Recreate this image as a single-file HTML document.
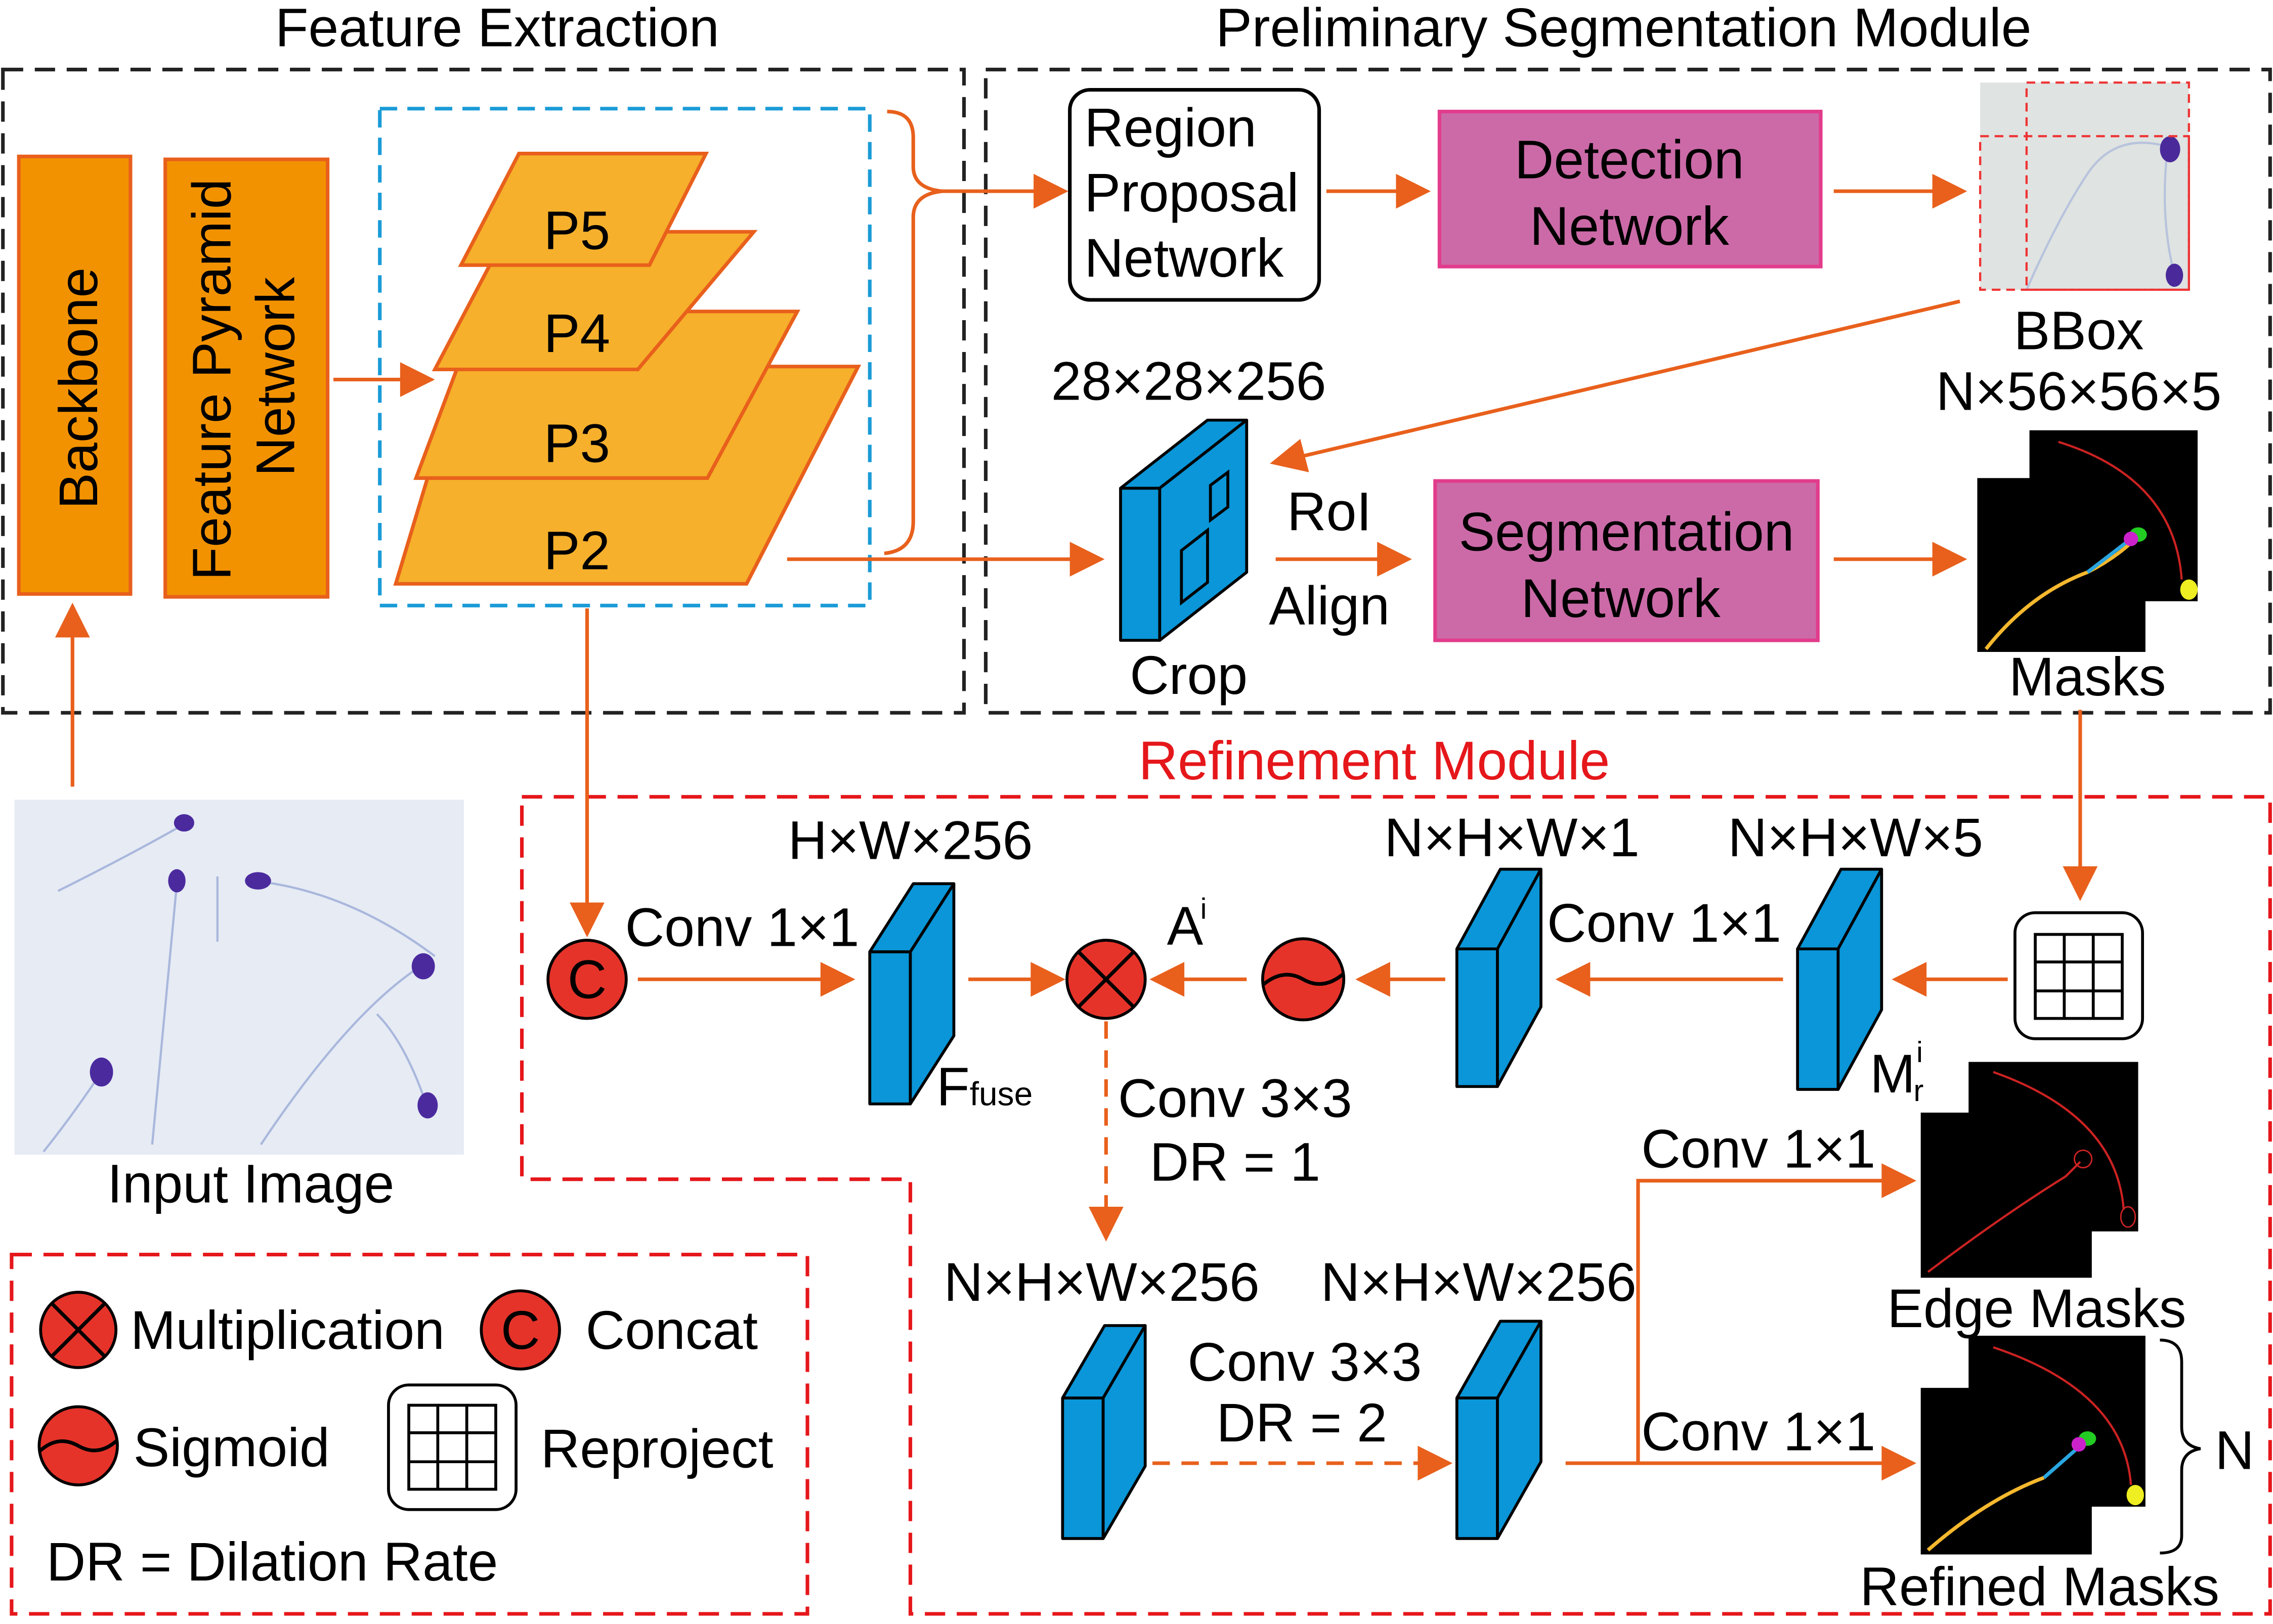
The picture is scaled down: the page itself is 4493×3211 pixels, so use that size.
<!DOCTYPE html>
<html><head><meta charset="utf-8">
<style>
html,body{margin:0;padding:0;background:#fff;}
svg{display:block;}
text{font-family:"Liberation Sans",Arial,sans-serif;fill:#000;}
</style></head>
<body>
<svg width="4493" height="3211" viewBox="0 0 1568 1121" preserveAspectRatio="none" xmlns="http://www.w3.org/2000/svg">
<style>
.o{stroke:#e8601c;stroke-width:2.5;fill:none}
.ah{fill:#e8601c}
.bl{fill:#0a96d8;stroke:#000;stroke-width:2;stroke-linejoin:round}
.t{font-size:37.5px}
</style>

<text x="343" y="32" class="t" text-anchor="middle">Feature Extraction</text>
<text x="1120" y="32" class="t" text-anchor="middle">Preliminary Segmentation Module</text>

<rect x="2" y="48" width="663" height="444" fill="none" stroke="#222" stroke-width="2.5" stroke-dasharray="14,8"/>
<rect x="680" y="48" width="886" height="444" fill="none" stroke="#222" stroke-width="2.5" stroke-dasharray="14,8"/>

<rect x="13" y="108" width="77" height="302" fill="#f39200" stroke="#e8601c" stroke-width="2.5"/>
<text transform="translate(67,268) rotate(-90)" class="t" text-anchor="middle">Backbone</text>
<rect x="114" y="110" width="112" height="302" fill="#f39200" stroke="#e8601c" stroke-width="2.5"/>
<text transform="translate(159,262) rotate(-90)" class="t" text-anchor="middle">Feature Pyramid</text>
<text transform="translate(203,260) rotate(-90)" class="t" text-anchor="middle">Network</text>
<line x1="230" y1="262" x2="280" y2="262" class="o"/><polygon class="ah" points="300,262 276,250 276,274"/>

<rect x="262" y="75" width="338" height="343" fill="none" stroke="#1a9bd7" stroke-width="2.5" stroke-dasharray="12,7"/>
<polygon points="273,403 515,403 592,253 318,253" fill="#f6b02b" stroke="#e8601c" stroke-width="2.5"/>
<polygon points="287,330 488,330 550,215 330,215" fill="#f6b02b" stroke="#e8601c" stroke-width="2.5"/>
<polygon points="300,255 440,255 520,160 350,160" fill="#f6b02b" stroke="#e8601c" stroke-width="2.5"/>
<polygon points="318,183 448,183 487,106 358,106" fill="#f6b02b" stroke="#e8601c" stroke-width="2.5"/>
<text x="398" y="172" class="t" text-anchor="middle">P5</text>
<text x="398" y="243" class="t" text-anchor="middle">P4</text>
<text x="398" y="319" class="t" text-anchor="middle">P3</text>
<text x="398" y="393" class="t" text-anchor="middle">P2</text>
<path d="M612,77 Q630,77 630,95 L630,115 Q630,130 650,132 Q630,134 630,150 L630,360 Q630,380 610,382" class="o"/>
<line x1="650" y1="132" x2="715" y2="132" class="o"/><polygon class="ah" points="737,132 713,120 713,144"/>

<rect x="738" y="62" width="172" height="145" rx="14" fill="#fff" stroke="#000" stroke-width="2.5"/>
<text x="748" y="101" class="t">Region</text>
<text x="748" y="146" class="t">Proposal</text>
<text x="748" y="191" class="t">Network</text>
<line x1="915" y1="132" x2="965" y2="132" class="o"/><polygon class="ah" points="987,132 963,120 963,144"/>
<rect x="993" y="77" width="263" height="107" fill="#cc6aa8" stroke="#e23c8c" stroke-width="2.5"/>
<text x="1124" y="123" class="t" text-anchor="middle">Detection</text>
<text x="1124" y="169" class="t" text-anchor="middle">Network</text>
<line x1="1265" y1="132" x2="1335" y2="132" class="o"/><polygon class="ah" points="1357,132 1333,120 1333,144"/>
<rect x="1366" y="57" width="144" height="143" fill="#dfe3e1"/>
<path d="M1398,200 Q1420,150 1440,120 T1498,102" stroke="#b7c3dd" fill="none" stroke-width="1.5"/>
<path d="M1500,190 Q1490,150 1495,105" stroke="#b7c3dd" fill="none" stroke-width="1.5"/>
<ellipse cx="1497" cy="103" rx="7" ry="9" fill="#4a2a9a"/>
<ellipse cx="1500" cy="190" rx="6" ry="8" fill="#4a2a9a"/>
<rect x="1398" y="57" width="112" height="143" fill="none" stroke="#e33" stroke-width="1.5" stroke-dasharray="6,4"/>
<rect x="1366" y="94" width="144" height="106" fill="none" stroke="#e33" stroke-width="1.5" stroke-dasharray="6,4"/>
<text x="1434" y="241" class="t" text-anchor="middle">BBox</text>
<text x="1434" y="283" class="t" text-anchor="middle">N×56×56×5</text>
<line x1="1352" y1="208" x2="898" y2="315" class="o"/><polygon class="ah" points="876,320 897,303 903,326"/>

<text x="820" y="276" class="t" text-anchor="middle">28×28×256</text>
<polygon class="bl" points="773,337 800,337 800,442 773,442"/>
<polygon class="bl" points="773,337 833,290 860,290 800,337"/>
<polygon class="bl" points="800,337 860,290 860,395 800,442"/>
<polygon points="815,380 833,366 833,402 815,416" fill="none" stroke="#000" stroke-width="2"/>
<polygon points="835,335 847,326 847,350 835,359" fill="none" stroke="#000" stroke-width="2"/>
<text x="820" y="479" class="t" text-anchor="middle">Crop</text>
<line x1="543" y1="386" x2="740" y2="386" class="o"/><polygon class="ah" points="762,386 738,374 738,398"/>
<text x="917" y="366" class="t" text-anchor="middle">RoI</text>
<text x="917" y="431" class="t" text-anchor="middle">Align</text>
<line x1="880" y1="386" x2="952" y2="386" class="o"/><polygon class="ah" points="974,386 950,374 950,398"/>
<rect x="990" y="332" width="264" height="110" fill="#cc6aa8" stroke="#e23c8c" stroke-width="2.5"/>
<text x="1122" y="380" class="t" text-anchor="middle">Segmentation</text>
<text x="1118" y="426" class="t" text-anchor="middle">Network</text>
<line x1="1265" y1="386" x2="1335" y2="386" class="o"/><polygon class="ah" points="1357,386 1333,374 1333,398"/>
<polygon points="1364,330 1400,330 1400,297 1516,297 1516,415 1480,415 1480,450 1364,450" fill="#000"/>
<path d="M1370,448 Q1400,410 1440,395 Q1460,385 1475,370" stroke="#f5b82e" stroke-width="2.5" fill="none"/>
<path d="M1440,395 L1470,372" stroke="#2aa6e0" stroke-width="2.5"/>
<ellipse cx="1475" cy="369" rx="6" ry="5" fill="#2c2"/><ellipse cx="1470" cy="372" rx="5" ry="5" fill="#c2c"/>
<path d="M1420,305 Q1500,330 1505,400" stroke="#c22" stroke-width="1.5" fill="none"/>
<ellipse cx="1510" cy="407" rx="6" ry="7" fill="#ee2"/>
<text x="1440" y="480" class="t" text-anchor="middle">Masks</text>

<rect x="10" y="552" width="310" height="245" fill="#e6ebf4"/>
<g stroke="#a9b7dc" stroke-width="1.5" fill="none">
<path d="M125,570 Q90,590 40,615"/><path d="M122,610 Q115,680 105,790"/><path d="M175,608 Q240,615 300,660"/>
<path d="M290,667 Q240,700 180,790"/><path d="M70,740 Q50,770 30,795"/><path d="M295,765 Q280,720 260,700"/><path d="M150,605 L150,650"/>
</g>
<g fill="#4b2a9e">
<ellipse cx="127" cy="568" rx="7" ry="6"/><ellipse cx="122" cy="608" rx="6" ry="8"/><ellipse cx="178" cy="608" rx="9" ry="6"/>
<ellipse cx="292" cy="667" rx="8" ry="9"/><ellipse cx="70" cy="740" rx="8" ry="10"/><ellipse cx="295" cy="763" rx="7" ry="9"/>
</g>
<text x="173" y="830" class="t" text-anchor="middle">Input Image</text>
<line x1="50" y1="543" x2="50" y2="438" class="o"/><polygon class="ah" points="50,416 38,440 62,440"/>

<text x="948" y="538" class="t" text-anchor="middle" style="fill:#e5171b">Refinement Module</text>
<polygon points="360,550 1566,550 1566,1114 628,1114 628,814 360,814" fill="none" stroke="#e5171b" stroke-width="2.5" stroke-dasharray="14,8"/>
<rect x="8" y="866" width="549" height="248" fill="none" stroke="#e5171b" stroke-width="2.5" stroke-dasharray="14,8"/>

<line x1="405" y1="420" x2="405" y2="625" class="o"/><polygon class="ah" points="405,647 393,623 417,623"/>
<circle cx="405" cy="676" r="27" fill="#e5332a" stroke="#000" stroke-width="2"/>
<text x="405" y="689" class="t" text-anchor="middle">C</text>
<text x="512" y="653" class="t" text-anchor="middle">Conv 1×1</text>
<line x1="440" y1="676" x2="568" y2="676" class="o"/><polygon class="ah" points="590,676 566,664 566,688"/>
<text x="628" y="593" class="t" text-anchor="middle">H×W×256</text>
<polygon class="bl" points="600,657 628,657 628,762 600,762"/>
<polygon class="bl" points="600,657 630,610 658,610 628,657"/>
<polygon class="bl" points="628,657 658,610 658,715 628,762"/>
<text x="646" y="763" class="t">F<tspan font-size="23">fuse</tspan></text>
<line x1="668" y1="676" x2="713" y2="676" class="o"/><polygon class="ah" points="735,676 711,664 711,688"/>
<circle cx="763" cy="676" r="27" fill="#e5332a" stroke="#000" stroke-width="2"/>
<path d="M744,657 L782,695 M782,657 L744,695" stroke="#000" stroke-width="2.5"/>
<text x="805" y="652" class="t">A</text><text x="828" y="634" font-size="20">i</text>
<line x1="860" y1="676" x2="815" y2="676" class="o"/><polygon class="ah" points="793,676 817,664 817,688"/>
<circle cx="899" cy="676" r="28" fill="#e5332a" stroke="#000" stroke-width="2"/>
<path d="M871,680 Q885,668 899,676 Q913,684 927,672" stroke="#000" stroke-width="2.5" fill="none"/>
<line x1="997" y1="676" x2="957" y2="676" class="o"/><polygon class="ah" points="935,676 959,664 959,688"/>
<text x="1043" y="591" class="t" text-anchor="middle">N×H×W×1</text>
<polygon class="bl" points="1005,655 1033,655 1033,750 1005,750"/>
<polygon class="bl" points="1005,655 1035,600 1063,600 1033,655"/>
<polygon class="bl" points="1033,655 1063,600 1063,695 1033,750"/>
<text x="1148" y="650" class="t" text-anchor="middle">Conv 1×1</text>
<line x1="1230" y1="676" x2="1095" y2="676" class="o"/><polygon class="ah" points="1073,676 1097,664 1097,688"/>
<text x="1280" y="591" class="t" text-anchor="middle">N×H×W×5</text>
<polygon class="bl" points="1240,655 1268,655 1268,752 1240,752"/>
<polygon class="bl" points="1240,655 1270,600 1298,600 1268,655"/>
<polygon class="bl" points="1268,655 1298,600 1298,697 1268,752"/>
<text x="1290" y="754" class="t">M</text><text x="1320" y="760" font-size="21">r</text><text x="1322" y="733" font-size="20">i</text>
<line x1="1385" y1="676" x2="1327" y2="676" class="o"/><polygon class="ah" points="1305,676 1329,664 1329,688"/>
<rect x="1390" y="630" width="88" height="87" rx="14" fill="#fff" stroke="#000" stroke-width="2"/>
<g stroke="#000" stroke-width="2" fill="none"><rect x="1404" y="645" width="60" height="58"/><path d="M1424,645V703M1444,645V703M1404,664H1464M1404,684H1464"/></g>
<line x1="1435" y1="490" x2="1435" y2="600" class="o"/><polygon class="ah" points="1435,622 1423,598 1447,598"/>

<line x1="763" y1="705" x2="763" y2="835" class="o" stroke-dasharray="12,8"/><polygon class="ah" points="763,857 751,833 775,833"/>
<text x="852" y="771" class="t" text-anchor="middle">Conv 3×3</text>
<text x="852" y="815" class="t" text-anchor="middle">DR = 1</text>
<text x="760" y="898" class="t" text-anchor="middle">N×H×W×256</text>
<polygon class="bl" points="733,965 761,965 761,1062 733,1062"/>
<polygon class="bl" points="733,965 762,915 790,915 761,965"/>
<polygon class="bl" points="761,965 790,915 790,1012 761,1062"/>
<text x="900" y="953" class="t" text-anchor="middle">Conv 3×3</text>
<text x="898" y="995" class="t" text-anchor="middle">DR = 2</text>
<line x1="795" y1="1010" x2="980" y2="1010" class="o" stroke-dasharray="12,8"/><polygon class="ah" points="1002,1010 978,998 978,1022"/>
<text x="1020" y="898" class="t" text-anchor="middle">N×H×W×256</text>
<polygon class="bl" points="1005,965 1033,965 1033,1062 1005,1062"/>
<polygon class="bl" points="1005,965 1035,912 1063,912 1033,965"/>
<polygon class="bl" points="1033,965 1063,912 1063,1009 1033,1062"/>
<line x1="1080" y1="1010" x2="1300" y2="1010" class="o"/><polygon class="ah" points="1322,1010 1298,998 1298,1022"/>
<polyline points="1130,1010 1130,815 1300,815" class="o"/><polygon class="ah" points="1322,815 1298,803 1298,827"/>
<text x="1213" y="806" class="t" text-anchor="middle">Conv 1×1</text>
<text x="1213" y="1001" class="t" text-anchor="middle">Conv 1×1</text>
<polygon points="1325,768 1358,768 1358,733 1475,733 1475,850 1443,850 1443,882 1325,882" fill="#000"/>
<path d="M1330,878 Q1380,840 1425,812 L1435,802" stroke="#c22" stroke-width="1.5" fill="none"/>
<circle cx="1437" cy="800" r="6" stroke="#c22" fill="none"/>
<path d="M1375,740 Q1460,770 1465,835" stroke="#c22" stroke-width="1.5" fill="none"/>
<ellipse cx="1468" cy="840" rx="5" ry="7" stroke="#c22" fill="none"/>
<text x="1405" y="916" class="t" text-anchor="middle">Edge Masks</text>
<polygon points="1325,958 1358,958 1358,922 1480,922 1480,1040 1443,1040 1443,1073 1325,1073" fill="#000"/>
<path d="M1330,1070 Q1370,1035 1410,1020" stroke="#f5b82e" stroke-width="2.5" fill="none"/>
<path d="M1410,1020 L1435,998" stroke="#2aa6e0" stroke-width="2.5"/>
<ellipse cx="1440" cy="993" rx="6" ry="5" fill="#2c2"/><ellipse cx="1434" cy="997" rx="5" ry="5" fill="#c2c"/>
<path d="M1375,930 Q1465,960 1470,1025" stroke="#c22" stroke-width="1.5" fill="none"/>
<ellipse cx="1473" cy="1032" rx="6" ry="7" fill="#ee2"/>
<text x="1407" y="1108" class="t" text-anchor="middle">Refined Masks</text>
<path d="M1490,925 Q1505,925 1505,940 L1505,985 Q1505,998 1518,1000 Q1505,1002 1505,1015 L1505,1060 Q1505,1072 1490,1072" stroke="#000" stroke-width="2" fill="none"/>
<text x="1528" y="1014" class="t">N</text>

<circle cx="54" cy="918" r="26" fill="#e5332a" stroke="#000" stroke-width="2"/>
<path d="M36,900 L72,936 M72,900 L36,936" stroke="#000" stroke-width="2.5"/>
<text x="90" y="931" class="t">Multiplication</text>
<circle cx="359" cy="918" r="27" fill="#e5332a" stroke="#000" stroke-width="2"/>
<text x="359" y="931" class="t" text-anchor="middle">C</text>
<text x="404" y="931" class="t">Concat</text>
<circle cx="54" cy="998" r="27" fill="#e5332a" stroke="#000" stroke-width="2"/>
<path d="M27,1002 Q40,990 54,998 Q68,1006 81,994" stroke="#000" stroke-width="2.5" fill="none"/>
<text x="92" y="1012" class="t">Sigmoid</text>
<rect x="268" y="956" width="88" height="86" rx="14" fill="#fff" stroke="#000" stroke-width="2"/>
<g stroke="#000" stroke-width="2" fill="none"><rect x="282" y="970" width="60" height="58"/><path d="M302,970V1028M322,970V1028M282,989H342M282,1009H342"/></g>
<text x="373" y="1013" class="t">Reproject</text>
<text x="32" y="1091" class="t">DR = Dilation Rate</text>
</svg>
</body></html>
